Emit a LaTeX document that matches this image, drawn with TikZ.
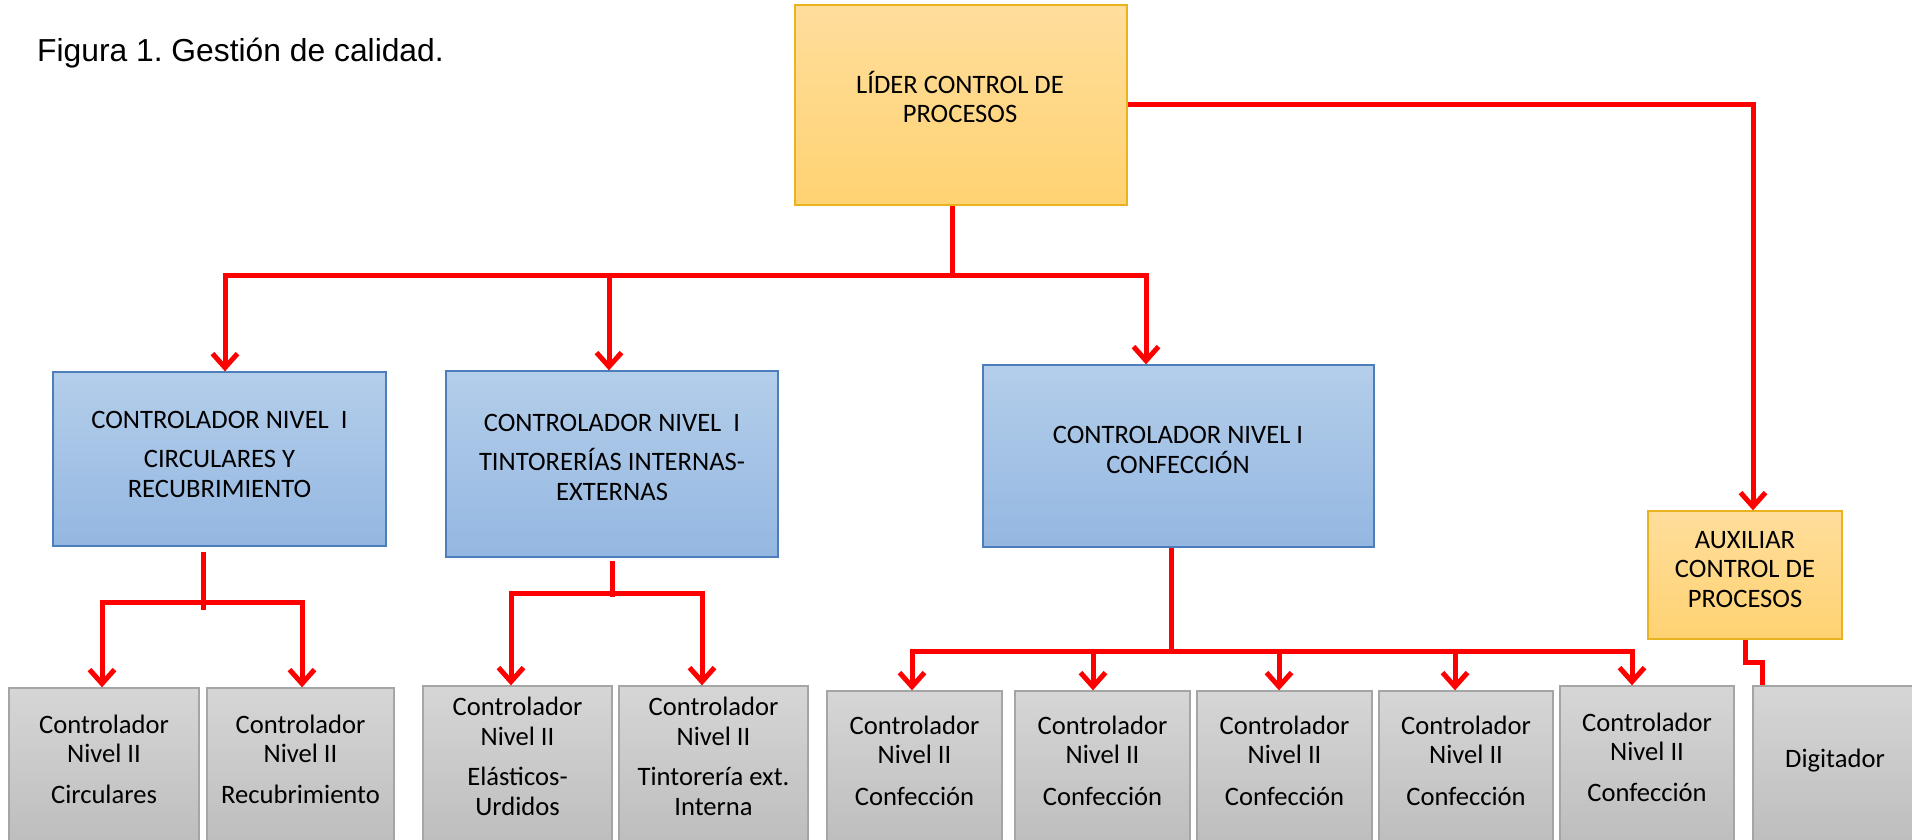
\documentclass[tikz,border=0pt]{standalone}
\usepackage{fontspec}
\setmainfont{Carlito}
\newfontfamily\capfont{Liberation Sans}
\usetikzlibrary{arrows.meta}
\frenchspacing

\definecolor{linkred}{HTML}{FF0000}
\definecolor{goldTop}{HTML}{FFDE9C}
\definecolor{goldBot}{HTML}{FFD272}
\definecolor{goldEdge}{HTML}{E9B320}
\definecolor{blueTop}{HTML}{B4CEEA}
\definecolor{blueBot}{HTML}{94B7E1}
\definecolor{blueEdge}{HTML}{4C7EBB}
\definecolor{grayTop}{HTML}{D6D6D6}
\definecolor{grayBot}{HTML}{BDBDBD}
\definecolor{grayEdge}{HTML}{A5A5A5}

\begin{document}
\begin{tikzpicture}[x=1pt,y=-1pt,
  box/.style={line width=1.3pt, inner sep=0pt},
  obox/.style={box, draw=goldEdge, top color=goldTop, bottom color=goldBot},
  bbox/.style={box, draw=blueEdge, top color=blueTop, bottom color=blueBot},
  gbox/.style={box, draw=grayEdge, top color=grayTop, bottom color=grayBot},
  % text nodes are placed by the baseline of their last line
  txt/.style={align=center, inner sep=0pt, anchor=base,
              font=\fontsize{26.6}{29.5}\selectfont},
  conn/.style={draw=linkred, line width=5pt},
  arr/.style={conn, -{Straight Barb[length=14pt,width=25pt]}}
]
\useasboundingbox (0,0) rectangle (1912,840);
\clip (0,0) rectangle (1912,840);
\fill[white] (0,0) rectangle (1912,840);

% caption
\node[inner sep=0pt, anchor=base west, font=\capfont\fontsize{31.8}{34}\selectfont]
  (caption) at (37,62) {Figura 1. Gestión de calidad.};

% leader and assistant
\node[obox, minimum width=332pt, minimum height=200pt] (lider) at (961,105) {};
\node[obox, minimum width=194pt, minimum height=128pt] (aux) at (1745,575) {};

% level I controllers
\node[bbox, minimum width=333pt, minimum height=174pt] (c1) at (219.5,459) {};
\node[bbox, minimum width=332pt, minimum height=186pt] (c2) at (612,464) {};
\node[bbox, minimum width=391pt, minimum height=182pt] (c3) at (1178.5,456) {};

% level II controllers and typist
\node[gbox, minimum width=190pt, minimum height=157pt] (g1) at (104,766.5) {};
\node[gbox, minimum width=187pt, minimum height=157pt] (g2) at (300.5,766.5) {};
\node[gbox, minimum width=189pt, minimum height=159pt] (g3) at (517.5,765.5) {};
\node[gbox, minimum width=189pt, minimum height=159pt] (g4) at (713.5,765.5) {};
\node[gbox, minimum width=175pt, minimum height=154pt] (g5) at (914.5,768) {};
\node[gbox, minimum width=175pt, minimum height=154pt] (g6) at (1102.5,768) {};
\node[gbox, minimum width=175pt, minimum height=154pt] (g7) at (1284.5,768) {};
\node[gbox, minimum width=174pt, minimum height=154pt] (g8) at (1466,768) {};
\node[gbox, minimum width=174pt, minimum height=159pt] (g9) at (1647,765.5) {};
\node[gbox, minimum width=163pt, minimum height=159pt] (dig) at (1834.5,765.5) {};

% box texts
\node[txt] (liderT) at (960,123) {LÍDER CONTROL DE\\PROCESOS};
\node[txt] (auxT) at (1745,607) {AUXILIAR\\CONTROL DE\\PROCESOS};
\node[txt] (c1T) at (219.5,497) {CONTROLADOR NIVEL\ \ I\\[10pt]CIRCULARES Y\\RECUBRIMIENTO};
\node[txt] (c2T) at (612,500) {CONTROLADOR NIVEL\ \ I\\[10pt]TINTORERÍAS INTERNAS-\\EXTERNAS};
\node[txt] (c3T) at (1178,473) {CONTROLADOR NIVEL I\\CONFECCIÓN};
\node[txt] (g1T) at (104,803) {Controlador\\Nivel II\\[11pt]Circulares};
\node[txt] (g2T) at (300.5,803) {Controlador\\Nivel II\\[11pt]Recubrimiento};
\node[txt] (g3T) at (517.5,815) {Controlador\\Nivel II\\[11pt]Elásticos-\\Urdidos};
\node[txt] (g4T) at (713.5,815) {Controlador\\Nivel II\\[11pt]Tintorería ext.\\Interna};
\node[txt] (g5T) at (914.5,805) {Controlador\\Nivel II\\[12pt]Confección};
\node[txt] (g6T) at (1102.5,805) {Controlador\\Nivel II\\[12pt]Confección};
\node[txt] (g7T) at (1284.5,805) {Controlador\\Nivel II\\[12pt]Confección};
\node[txt] (g8T) at (1466,805) {Controlador\\Nivel II\\[12pt]Confección};
\node[txt] (g9T) at (1647,801) {Controlador\\Nivel II\\[11pt]Confección};
\node[txt] (digT) at (1835,767) {Digitador};

% leader -> level I
\coordinate (busA) at (952,275);
\draw[conn] (lider.south -| busA) -- (busA);
\draw[arr] (busA) -| ([xshift=5.5pt]c1.north);
\draw[arr] (busA) -| ([xshift=-3pt]c2.north);
\draw[arr] (busA) -| ([xshift=-32.5pt]c3.north);

% leader -> assistant
\draw[arr] (lider.east) -| ([xshift=8pt]aux.north);

% circulares y recubrimiento
\coordinate (busB) at (203,602);
\draw[conn] ([yshift=-5pt]c1.south -| busB) -- ([yshift=-8pt]busB);
\draw[arr] (busB) -| ([xshift=-2pt]g1.north);
\draw[arr] (busB) -| ([xshift=1.5pt]g2.north);

% tintorerías
\coordinate (busC) at (612,593);
\draw[conn] ([yshift=-3pt]c2.south -| busC) -- ([yshift=-4pt]busC);
\draw[arr] (busC) -| ([xshift=-6.5pt]g3.north);
\draw[arr] (busC) -| ([xshift=-11.5pt]g4.north);

% confección
\coordinate (busD) at (1171,651);
\draw[conn] (c3.south -| busD) -- (busD);
\draw[arr] (busD) -| ([xshift=-2.5pt]g5.north);
\draw[arr] (busD) -| ([xshift=-9.5pt]g6.north);
\draw[arr] (busD) -| ([xshift=-5.5pt]g7.north);
\draw[arr] (busD) -| ([xshift=-11pt]g8.north);
\draw[arr] (busD) -| ([xshift=-15pt]g9.north);

% assistant -> typist
\draw[conn] (aux.south) -- ++(0,23) -| ([xshift=10pt]dig.north west);
\end{tikzpicture}
\end{document}
